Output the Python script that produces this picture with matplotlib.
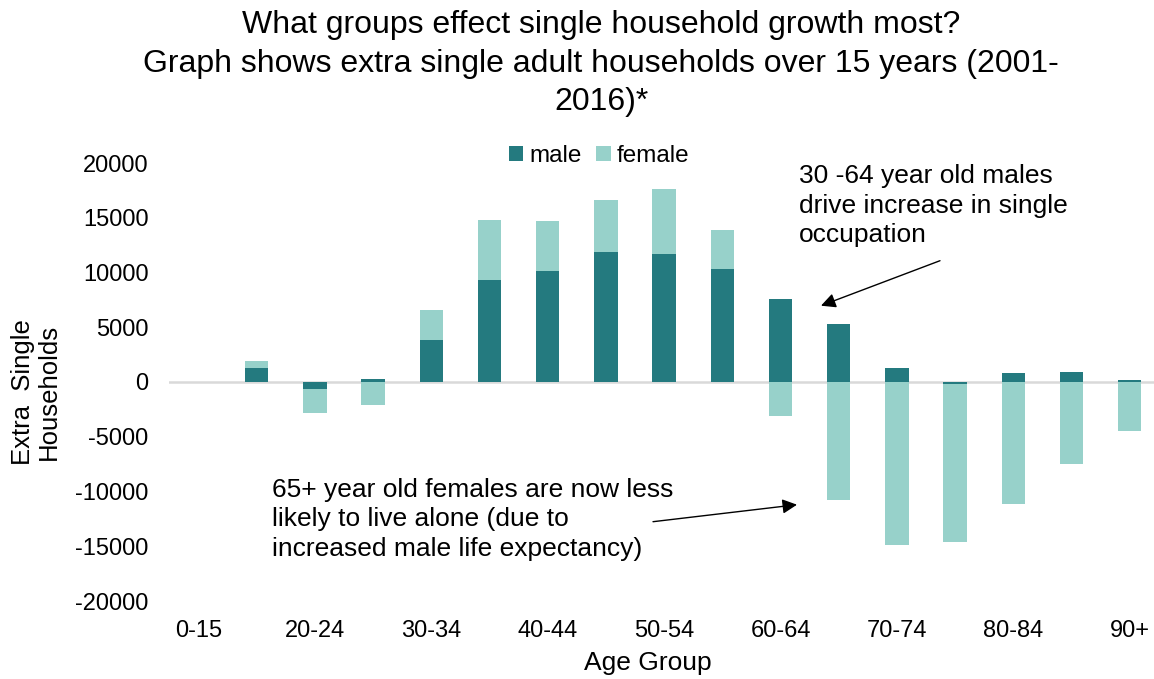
import numpy as np
import matplotlib
matplotlib.use("Agg")
import matplotlib.pyplot as plt

plt.rcParams['font.family'] = ['Liberation Sans', 'DejaVu Sans']

age_groups = ["0-15", "15-19", "20-24", "25-29", "30-34", "35-39", "40-44", "45-49",
              "50-54", "55-59", "60-64", "65-69", "70-74", "75-79", "80-84", "85-89", "90+"]
male = np.array([0, 1300, -600, 250, 3870, 9350, 10170, 11900,
                 11720, 10350, 7610, 5270, 1310, -150, 820, 880, 210])
female = np.array([0, 650, -2230, -2070, 2670, 5450, 4530, 4720,
                   5940, 3500, -3140, -10810, -14890, -14490, -11140, -7490, -4440])
y_ticks = [-20000, -15000, -10000, -5000, 0, 5000, 10000, 15000, 20000]

male_color = "#247A7F"
female_color = "#97D1CA"

W, H = 1154, 679
fig = plt.figure(figsize=(W / 100, H / 100), dpi=100)
ax = fig.add_axes([169.4 / W, (H - 601) / H, 989.4 / W, 438 / H])

x = np.arange(len(age_groups))
# excel-style stacking: same sign stacks on male, opposite sign starts at 0
female_bottom = np.where(np.sign(female) == np.sign(male), male, 0)
ax.bar(x, male, width=0.4, color=male_color, label="male", zorder=2)
ax.bar(x, female, width=0.4, bottom=female_bottom, color=female_color, label="female", zorder=2)
ax.axhline(0, color="#D9D9D9", lw=1.8, zorder=1)

ax.set_xlim(-0.5, len(age_groups) - 0.5)
ax.set_ylim(-20000, 20000)
ax.set_yticks(y_ticks)
ax.set_yticklabels([str(v) for v in y_ticks])
ax.set_xticks(x[::2])
ax.set_xticklabels(age_groups[::2])
ax.tick_params(axis='both', length=0, labelsize=17)
ax.tick_params(axis='y', pad=15)
ax.tick_params(axis='x', pad=14)
for s in ax.spines.values():
    s.set_visible(False)

fig.text(601 / W, 1 - 10 / H,
         "What groups effect single household growth most?\n"
         "Graph shows extra single adult households over 15 years (2001-\n2016)*",
         ha='center', va='top', fontsize=23, linespacing=1.38)

fig.text(36 / W, 1 - 392 / H, "Extra  Single\nHouseholds", rotation=90,
         ha='center', va='center', fontsize=18.5, linespacing=1.1)
fig.text(648 / W, 1 - 663 / H, "Age Group", ha='center', va='center', fontsize=19)

ax.legend(loc='center', bbox_to_anchor=(599 / W, 1 - 156 / H), bbox_transform=fig.transFigure,
          ncol=2, frameon=False, fontsize=17.5, handlelength=0.6, handleheight=0.6,
          handletextpad=0.25, columnspacing=0.6, borderpad=0)


def px_to_data(px, py):
    return ((px - 198.5) / 58.2, (382.3 - py) / 0.01095)


ax.text(*px_to_data(799, 164),
        "30 -64 year old males\ndrive increase in single\noccupation",
        ha='left', va='top', fontsize=19, linespacing=1.31)
ax.annotate("", xy=px_to_data(821, 306), xytext=px_to_data(940, 261),
            arrowprops=dict(arrowstyle='-|>', color='black', lw=1, mutation_scale=22,
                            shrinkA=0, shrinkB=0))

ax.text(*px_to_data(272, 478),
        "65+ year old females are now less\nlikely to live alone (due to\nincreased male life expectancy)",
        ha='left', va='top', fontsize=19, linespacing=1.3)
ax.annotate("", xy=px_to_data(797, 505), xytext=px_to_data(653, 522),
            arrowprops=dict(arrowstyle='-|>', color='black', lw=1, mutation_scale=22,
                            shrinkA=0, shrinkB=0))

fig.savefig("out.png", dpi=100)
